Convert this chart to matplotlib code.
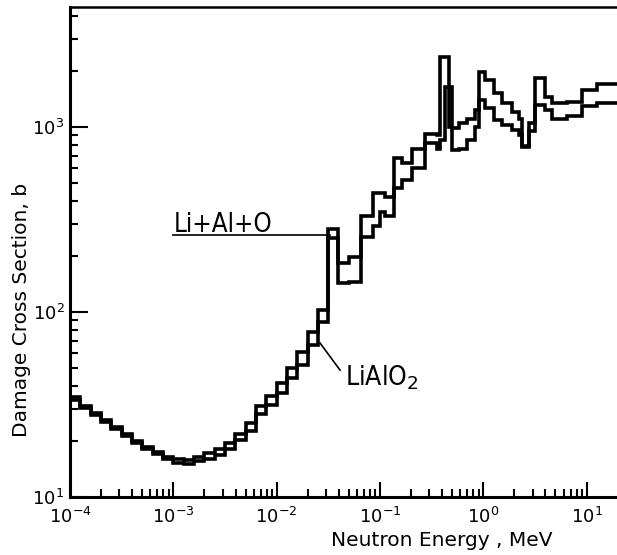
import numpy as np
import matplotlib
matplotlib.use('Agg')
import matplotlib.pyplot as plt
from matplotlib.ticker import LogLocator, NullFormatter

# group boundaries, MeV
energy_edges = [1.00e-4, 1.26e-4, 1.58e-4, 2.00e-4, 2.51e-4, 3.16e-4, 3.98e-4, 5.01e-4, 6.31e-4, 7.94e-4,
                1.00e-3, 1.26e-3, 1.58e-3, 2.00e-3, 2.51e-3, 3.16e-3, 3.98e-3, 5.01e-3, 6.31e-3, 7.94e-3,
                1.00e-2, 1.26e-2, 1.58e-2, 2.00e-2, 2.51e-2, 3.16e-2,
                0.039, 0.0507, 0.0649, 0.0848, 0.101, 0.113, 0.138, 0.165, 0.206, 0.275, 0.36, 0.385,
                0.43, 0.469, 0.50, 0.586, 0.70, 0.84, 0.914, 1.045, 1.28, 1.53, 1.9, 2.23, 2.38, 2.78,
                3.18, 3.97, 4.64, 6.49, 9.05, 12.6, 20.0]

# damage cross section, barn
li_al_o = [34.5, 31, 28.5, 26, 23.9, 21.9, 20.1, 18.6, 17.5, 16.5,
           16.0, 15.9, 16.4, 17.3, 18.2, 19.6, 21.9, 25.1, 31, 35.2,
           41.4, 49.9, 61, 78, 103,
           282, 185, 197, 330, 440, 440, 420, 680, 640, 760, 920, 900,
           2390, 2390, 1000, 990, 1050, 1110, 1230, 1980, 1800, 1530, 1350, 1200, 1110, 790,
           1050, 1840, 1450, 1340, 1360, 1590, 1700]

lialo2 = [33.5, 30.3, 27.8, 25.4, 23.3, 21.3, 19.6, 18.1, 17.0, 16.0,
          15.3, 15.1, 15.7, 16.1, 16.9, 18.2, 20.3, 22.8, 28, 31.4,
          36.6, 44, 52, 66, 88,
          250, 143, 145, 255, 290, 345, 330, 470, 520, 600, 820, 760,
          850, 1650, 1650, 750, 760, 850, 1000, 1400, 1270, 1090, 1020, 960, 900, 780,
          950, 1320, 1230, 1110, 1150, 1290, 1340]

fig = plt.figure(figsize=(6.17, 5.55), dpi=100)
ax = fig.add_axes([70 / 617, 58 / 555, 547 / 617, 490 / 555])

ax.stairs(li_al_o, energy_edges, baseline=None, color='black', lw=2.6)
ax.stairs(lialo2, energy_edges, baseline=None, color='black', lw=2.6)

ax.set_xscale('log')
ax.set_yscale('log')
ax.set_xlim(1e-4, 19.7)
ax.set_ylim(10, 4450)

for axis in (ax.xaxis, ax.yaxis):
    axis.set_major_locator(LogLocator(base=10, numticks=20))
    axis.set_minor_locator(LogLocator(base=10, subs=np.arange(2, 10), numticks=100))
    axis.set_minor_formatter(NullFormatter())

ax.tick_params(axis='both', which='both', direction='in', width=1.5, labelsize=13)
ax.tick_params(axis='x', which='major', length=11, pad=7)
ax.tick_params(axis='y', which='major', length=13, pad=4)
ax.tick_params(axis='both', which='minor', length=6)
ax.tick_params(right=False, top=False)

ax.spines['right'].set_visible(False)
ax.spines['left'].set_linewidth(2.2)
ax.spines['bottom'].set_linewidth(2.2)
ax.spines['top'].set_linewidth(1.8)

# curve labels
ax.plot([1e-3, 0.0329], [261, 261], color='black', lw=1.2)
ax.text(1e-3, 272, 'Li+Al+O', fontsize=18.5, fontstretch='condensed', ha='left', va='baseline')
ax.plot([0.0263, 0.0411], [68, 48.5], color='black', lw=1.2)
ax.text(0.0459, 40.3, r'LiAlO$_2$', fontsize=19, fontstretch='condensed', ha='left', va='baseline')

fig.text(442 / 617, 1 - 540 / 555, 'Neutron Energy , MeV', fontsize=14.5, ha='center', va='center')
fig.text(22 / 617, 1 - 310 / 555, 'Damage Cross Section, b', fontsize=14.5, rotation=90,
         ha='center', va='center')

fig.savefig('out.png', dpi=100)
